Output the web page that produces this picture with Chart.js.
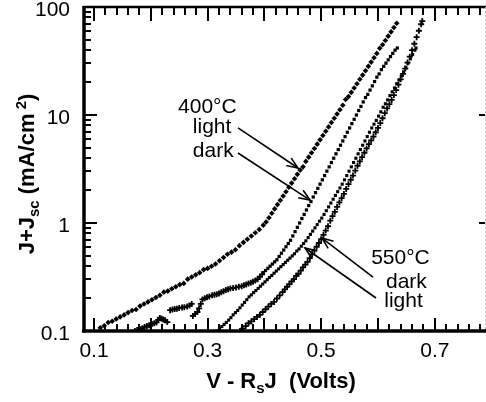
<!DOCTYPE html>
<html>
<head>
<meta charset="utf-8">
<script src="https://cdn.jsdelivr.net/npm/chart.js@4.4.1/dist/chart.umd.min.js"></script>
<style>
html,body{margin:0;padding:0;background:#fff;overflow:hidden;}
canvas{display:block;}
</style>
</head>
<body>
<canvas id="c" width="486" height="402"></canvas>
<script>
// ---- axis ticks ----
const xTicks = [0.1, 0.3, 0.5, 0.7];
const xTickText = ['0.1', '0.3', '0.5', '0.7'];
const yTicks = [0.1, 1, 10, 100];
const yTickText = ['0.1', '1', '10', '100'];
const xMajor = [0.1, 0.2, 0.3, 0.4, 0.5, 0.6, 0.7];
const xMinor = [0.12,0.14,0.16,0.18,0.22,0.24,0.26,0.28,0.32,0.34,0.36,0.38,0.42,0.44,0.46,0.48,0.52,0.54,0.56,0.58,0.62,0.64,0.66,0.68,0.72,0.74,0.76,0.78];
const yMinor = [0.2,0.3,0.4,0.5,0.6,0.7,0.8,0.9,2,3,4,5,6,7,8,9,20,30,40,50,60,70,80,90];

// ---- series: 400°C light (V, J+Jsc) ----
const v400light = [0.111,0.118,0.125,0.132,0.139,0.146,0.153,0.160,0.167,0.174,0.181,0.188,0.195,0.202,0.209,0.216,0.223,0.230,0.237,0.244,0.251,0.258,0.265,0.272,0.279,0.286,0.293,0.300,0.307,0.314,0.321,0.328,0.335,0.342,0.349,0.356,0.363,0.370,0.377,0.384,0.391,0.398,
0.403,0.408,0.413,0.418,0.423,0.428,0.433,0.438,0.443,0.448,0.453,0.458,0.463,0.468,0.473,0.478,0.483,0.488,0.493,0.498,0.503,0.508,0.513,0.518,0.523,0.528,0.533,0.538,0.543,0.548,0.553,0.558,0.563,0.568,0.573,0.578,0.583,0.588,0.593,0.598,0.603,0.608,0.613,0.618,0.623,0.628,0.633];
const j400light = [0.107,0.112,0.120,0.123,0.129,0.135,0.141,0.148,0.155,0.158,0.170,0.178,0.186,0.195,0.204,0.214,0.229,0.234,0.246,0.257,0.269,0.276,0.302,0.316,0.331,0.347,0.370,0.380,0.398,0.417,0.447,0.479,0.513,0.537,0.566,0.617,0.661,0.708,0.759,0.813,0.871,0.955,
1.02,1.12,1.23,1.35,1.48,1.62,1.78,1.95,2.14,2.34,2.57,2.82,3.09,3.31,3.72,4.07,4.47,4.90,5.37,5.89,6.46,7.08,7.76,8.51,9.33,10.2,11.2,12.3,13.9,14.8,16.2,17.8,19.5,21.4,23.4,25.7,28.2,30.9,33.9,37.2,41.5,44.7,49.0,53.7,58.9,64.6,70.8];

// ---- series: 400°C dark ----
const v400darkLow = [0.172,0.176,0.181,0.185,0.189,0.193,0.197,0.202,0.206,0.210,0.213,0.216,0.219,0.222,0.225,0.229,
0.234,0.238,0.242,0.246,0.250,0.255,0.259,0.264,0.268,0.272,
0.274,0.278,0.282,0.285,0.288,0.291,0.295,0.299,0.303,0.308,0.312,0.316,0.320,0.324,0.328,0.332,0.336,0.340,0.345,0.350,0.355,0.360,0.364,0.368,0.372,0.376,0.380,0.384,0.388,0.392,0.396];
const j400darkLow = [0.100,0.102,0.104,0.106,0.109,0.111,0.113,0.116,0.118,0.120,0.127,0.132,0.130,0.128,0.126,0.121,
0.156,0.158,0.160,0.161,0.163,0.165,0.166,0.169,0.172,0.178,
0.138,0.144,0.150,0.162,0.178,0.196,0.201,0.205,0.209,0.214,0.217,0.219,0.223,0.228,0.233,0.240,0.244,0.247,0.250,0.253,0.257,0.260,0.265,0.270,0.276,0.280,0.286,0.293,0.302,0.318,0.335];
const v400darkHigh = [0.398,0.402,0.406,0.410,0.414,0.418,0.422,0.426,0.430,0.434,0.438,0.442,0.446,0.450,0.454,0.458,0.462,0.466,0.470,0.474,0.478,0.482,0.486,0.490,0.494,0.498,0.502,0.506,0.510,0.514,0.518,0.522,0.526,0.530,0.534,0.538,0.542,0.546,0.550,0.554,0.558,0.562,0.566,0.570,0.574,0.578,0.582,0.586,0.590,0.594,0.598,0.602,0.606,0.610,0.614,0.618,0.622,0.626,0.630,0.634];
const j400darkHigh = [0.347,0.363,0.380,0.398,0.417,0.437,0.457,0.490,0.525,0.562,0.603,0.646,0.692,0.759,0.832,0.912,1.00,1.10,1.20,1.32,1.45,1.58,1.74,1.91,2.09,2.29,2.51,2.75,3.02,3.31,3.63,3.98,4.37,4.79,5.25,5.75,6.31,6.92,7.59,8.32,9.12,10.0,11.0,12.0,13.2,14.5,15.5,17.0,18.6,20.4,22.4,24.0,26.3,28.2,30.2,32.4,34.7,37.2,39.8,41.7];

// ---- series: 550°C dark ----
const v550dark = [0.357,0.362,0.367,0.372,0.377,0.382,0.387,0.392,0.397,0.402,0.407,0.412,0.417,0.422,0.427,0.432,0.436,0.440,0.444,0.448,0.452,0.456,0.460,0.464,0.468,0.472,0.476,0.480,0.484,0.488,0.492,0.496,0.500,0.504,0.508,0.512,0.516,0.520,0.524,0.528,0.532,0.536,0.540,0.544,0.548,0.552,0.556,0.560,0.564,0.568,0.572,0.576,0.580,0.584,0.588,0.592,0.596,0.600,0.604,0.608,0.612,0.616,0.620,0.624,0.628,0.632,0.636,0.640,0.644,0.648,0.652,0.656,0.660,0.664,0.668,0.672,0.676,0.678];
const j550dark = [0.100,0.105,0.111,0.118,0.123,0.129,0.135,0.141,0.150,0.159,0.168,0.178,0.186,0.200,0.214,0.229,0.243,0.257,0.272,0.288,0.302,0.324,0.339,0.363,0.389,0.412,0.437,0.473,0.513,0.556,0.603,0.653,0.708,0.776,0.851,0.933,1.05,1.16,1.27,1.41,1.55,1.70,1.86,2.07,2.29,2.51,2.75,3.06,3.39,3.72,4.07,4.47,4.90,5.37,5.82,6.31,6.92,7.59,8.41,9.33,10.4,11.5,12.6,13.8,15.3,17.0,19.1,21.4,24.0,26.9,30.6,34.7,39.8,45.7,52.5,60.3,69.2,74.1];

// ---- series: 550°C light ----
const v550light = [0.317,0.321,0.325,0.329,0.333,0.337,0.341,0.345,0.349,0.353,0.357,0.361,0.365,0.369,0.373,0.377,0.381,0.385,0.389,0.393,0.397,0.401,0.405,0.409,0.413,0.417,0.421,0.425,0.429,0.433,0.437,0.441,0.445,0.449,0.453,0.457,0.461,0.465,0.469,0.473,0.477,0.481,0.485,0.489,0.493,0.497,0.501,0.505,0.509,0.513,0.517,0.521,0.525,0.529,0.533,0.537,0.541,0.545,0.549,0.553,0.557,0.561,0.565,0.569,0.573,0.577,0.581,0.585,0.589,0.593,0.597,0.601,0.605,0.609,0.613,0.617,0.621,0.625,0.629,0.633,0.637,0.641,0.645,0.649,0.653,0.657,0.661,0.665,0.667];
const j550light = [0.100,0.105,0.110,0.115,0.120,0.126,0.133,0.141,0.148,0.155,0.164,0.174,0.184,0.195,0.207,0.216,0.227,0.237,0.248,0.260,0.272,0.285,0.299,0.313,0.327,0.343,0.359,0.376,0.394,0.412,0.432,0.452,0.473,0.496,0.519,0.550,0.575,0.610,0.646,0.684,0.733,0.785,0.841,0.902,0.966,1.04,1.11,1.20,1.30,1.41,1.53,1.66,1.80,1.95,2.11,2.29,2.51,2.75,3.02,3.31,3.63,3.98,4.37,4.79,5.25,5.75,6.31,6.92,7.59,8.22,8.91,9.77,10.7,11.8,12.7,13.8,15.1,16.4,17.8,19.5,21.1,22.9,25.1,27.5,30.2,33.1,36.3,39.8,41.7];

// ---- annotations (data coordinates) ----
const notes = [
  {t: '400°C', x: 0.248, y: 10.4},
  {t: 'light', x: 0.274, y: 6.75},
  {t: 'dark',  x: 0.274, y: 4.08},
  {t: '550°C', x: 0.588, y: 0.417},
  {t: 'dark',  x: 0.614, y: 0.250},
  {t: 'light', x: 0.611, y: 0.167}
];
const arrows = [
  {x0: 0.3535, y0: 7.59, x1: 0.4592, y1: 3.23},
  {x0: 0.3535, y0: 4.45, x1: 0.4803, y1: 1.63},
  {x0: 0.5912, y0: 0.316, x1: 0.5014, y1: 0.726},
  {x0: 0.5965, y0: 0.202, x1: 0.4715, y1: 0.587}
];

const pts = (xs, ys) => xs.map((v, i) => ({x: v, y: ys[i]}));
const FONT = "'Liberation Sans', Arial, sans-serif";

const framePlugin = {
  id: 'frame',
  afterDatasetsDraw(chart) {
    const {ctx, chartArea: a, scales: {x, y}} = chart;
    ctx.save();
    ctx.strokeStyle = '#000';
    ctx.lineCap = 'butt';
    ctx.lineWidth = 2;
    const vline = (px, y0, y1) => { ctx.beginPath(); ctx.moveTo(px, y0); ctx.lineTo(px, y1); ctx.stroke(); };
    const hline = (py, x0, x1) => { ctx.beginPath(); ctx.moveTo(x0, py); ctx.lineTo(x1, py); ctx.stroke(); };
    xMajor.forEach(v => { const p = Math.round(x.getPixelForValue(v)); vline(p, a.bottom, a.bottom - 13); vline(p, a.top, a.top + 14); });
    xMinor.forEach(v => { const p = Math.round(x.getPixelForValue(v)); vline(p, a.bottom, a.bottom - 7); vline(p, a.top, a.top + 8); });
    yTicks.forEach(v => { const p = Math.round(y.getPixelForValue(v)); hline(p, a.left, a.left + 14); hline(p, a.right, a.right - 6); });
    yMinor.forEach(v => { const p = Math.round(y.getPixelForValue(v)); hline(p, a.left, a.left + 8); });
    ctx.lineWidth = 3.5;
    vline(a.left + 1, a.top - 1, a.bottom + 1.5);
    hline(a.bottom, a.left - 1, a.right + 1);
    ctx.lineWidth = 2.5;
    hline(a.top, a.left, a.right + 1);
    ctx.save();
    ctx.strokeStyle = '#bbbbbb';
    ctx.lineWidth = 1;
    ctx.setLineDash([2, 2]);
    vline(a.right + 0.5, a.top, a.bottom);
    ctx.restore();

    ctx.fillStyle = '#000';
    ctx.font = '21px ' + FONT;
    ctx.textBaseline = 'alphabetic';
    ctx.textAlign = 'left';
    notes.forEach(n => ctx.fillText(n.t, x.getPixelForValue(n.x), y.getPixelForValue(n.y)));
    ctx.lineWidth = 1.6;
    arrows.forEach(r => {
      const x0 = x.getPixelForValue(r.x0), y0 = y.getPixelForValue(r.y0);
      const x1 = x.getPixelForValue(r.x1), y1 = y.getPixelForValue(r.y1);
      ctx.beginPath(); ctx.moveTo(x0, y0); ctx.lineTo(x1, y1); ctx.stroke();
      const ang = Math.atan2(y1 - y0, x1 - x0), L = 12, s = 0.38;
      ctx.beginPath();
      ctx.moveTo(x1 - L * Math.cos(ang - s), y1 - L * Math.sin(ang - s));
      ctx.lineTo(x1, y1);
      ctx.lineTo(x1 - L * Math.cos(ang + s), y1 - L * Math.sin(ang + s));
      ctx.stroke();
    });

    const B = 'bold 22px ' + FONT, Bs = 'bold 15px ' + FONT;
    const runsW = runs => runs.reduce((w, r) => { ctx.font = r.f; return w + ctx.measureText(r.t).width; }, 0);
    const drawRuns = (runs, x0, y0) => { let cx = x0; runs.forEach(r => { ctx.font = r.f; ctx.fillText(r.t, cx, y0 + r.dy); cx += ctx.measureText(r.t).width; }); };
    const xt = [{t: 'V - R', f: B, dy: 0}, {t: 's', f: Bs, dy: 5}, {t: 'J  (Volts)', f: B, dy: 0}];
    const xc = (a.left + a.right) / 2 - 3;
    drawRuns(xt, xc - runsW(xt) / 2, 388);
    const yt = [{t: 'J+J', f: B, dy: 0}, {t: 'sc', f: Bs, dy: 5}, {t: ' (mA/cm', f: B, dy: 0}, {t: ' ', f: Bs, dy: 0}, {t: '2', f: Bs, dy: -8}, {t: ')', f: B, dy: 0}];
    ctx.translate(34, 174);
    ctx.rotate(-Math.PI / 2);
    drawRuns(yt, -runsW(yt) / 2, 0);
    ctx.restore();
  }
};

const noPad = s => { s.paddingTop = 0; s.paddingBottom = 0; s.paddingLeft = 0; s.paddingRight = 0; };
const lowCount = v400darkLow.length;
new Chart(document.getElementById('c'), {
  type: 'scatter',
  data: {
    datasets: [
      {label: '400°C light', data: pts(v400light, j400light), pointStyle: 'rectRot', pointRadius: 2.8, backgroundColor: '#000', borderColor: '#000', borderWidth: 0},
      {label: '400°C dark', data: pts(v400darkLow.concat(v400darkHigh), j400darkLow.concat(j400darkHigh)),
        pointStyle: c => c.dataIndex < lowCount ? 'cross' : 'rect',
        pointRadius: c => c.dataIndex < lowCount ? 3 : 2.3,
        borderWidth: c => c.dataIndex < lowCount ? 1.8 : 0,
        backgroundColor: '#000', borderColor: '#000'},
      {label: '550°C dark', data: pts(v550dark, j550dark), pointStyle: 'cross', pointRadius: 3, borderWidth: 1.8, backgroundColor: '#000', borderColor: '#000'},
      {label: '550°C light', data: pts(v550light, j550light), pointStyle: 'rect', pointRadius: 2.2, borderWidth: 0, backgroundColor: '#000', borderColor: '#000'}
    ]
  },
  options: {
    responsive: false,
    animation: false,
    devicePixelRatio: 1,
    layout: {autoPadding: false, padding: {top: 7, right: 1, left: 0, bottom: 0}},
    plugins: {legend: {display: false}, tooltip: {enabled: false}},
    scales: {
      x: {
        type: 'linear', min: 0.0806, max: 0.7884,
        afterFit: s => { s.height = 71; noPad(s); },
        afterBuildTicks: s => { s.ticks = xTicks.map(v => ({value: v})); },
        grid: {display: false, drawTicks: false},
        border: {display: false},
        ticks: {autoSkip: false, maxRotation: 0, padding: 8, color: '#000', font: {family: FONT, size: 21},
          callback: v => { const i = xTicks.indexOf(v); return i >= 0 ? xTickText[i] : ''; }}
      },
      y: {
        type: 'logarithmic', min: 0.1, max: 100,
        afterFit: s => { s.width = 83; noPad(s); },
        afterBuildTicks: s => { s.ticks = yTicks.map(v => ({value: v})); },
        grid: {display: false, drawTicks: false},
        border: {display: false},
        ticks: {autoSkip: false, padding: 13, labelOffset: 3, color: '#000', font: {family: FONT, size: 21},
          callback: v => { const i = yTicks.indexOf(v); return i >= 0 ? yTickText[i] : ''; }}
      }
    }
  },
  plugins: [framePlugin]
});
</script>
</body>
</html>
